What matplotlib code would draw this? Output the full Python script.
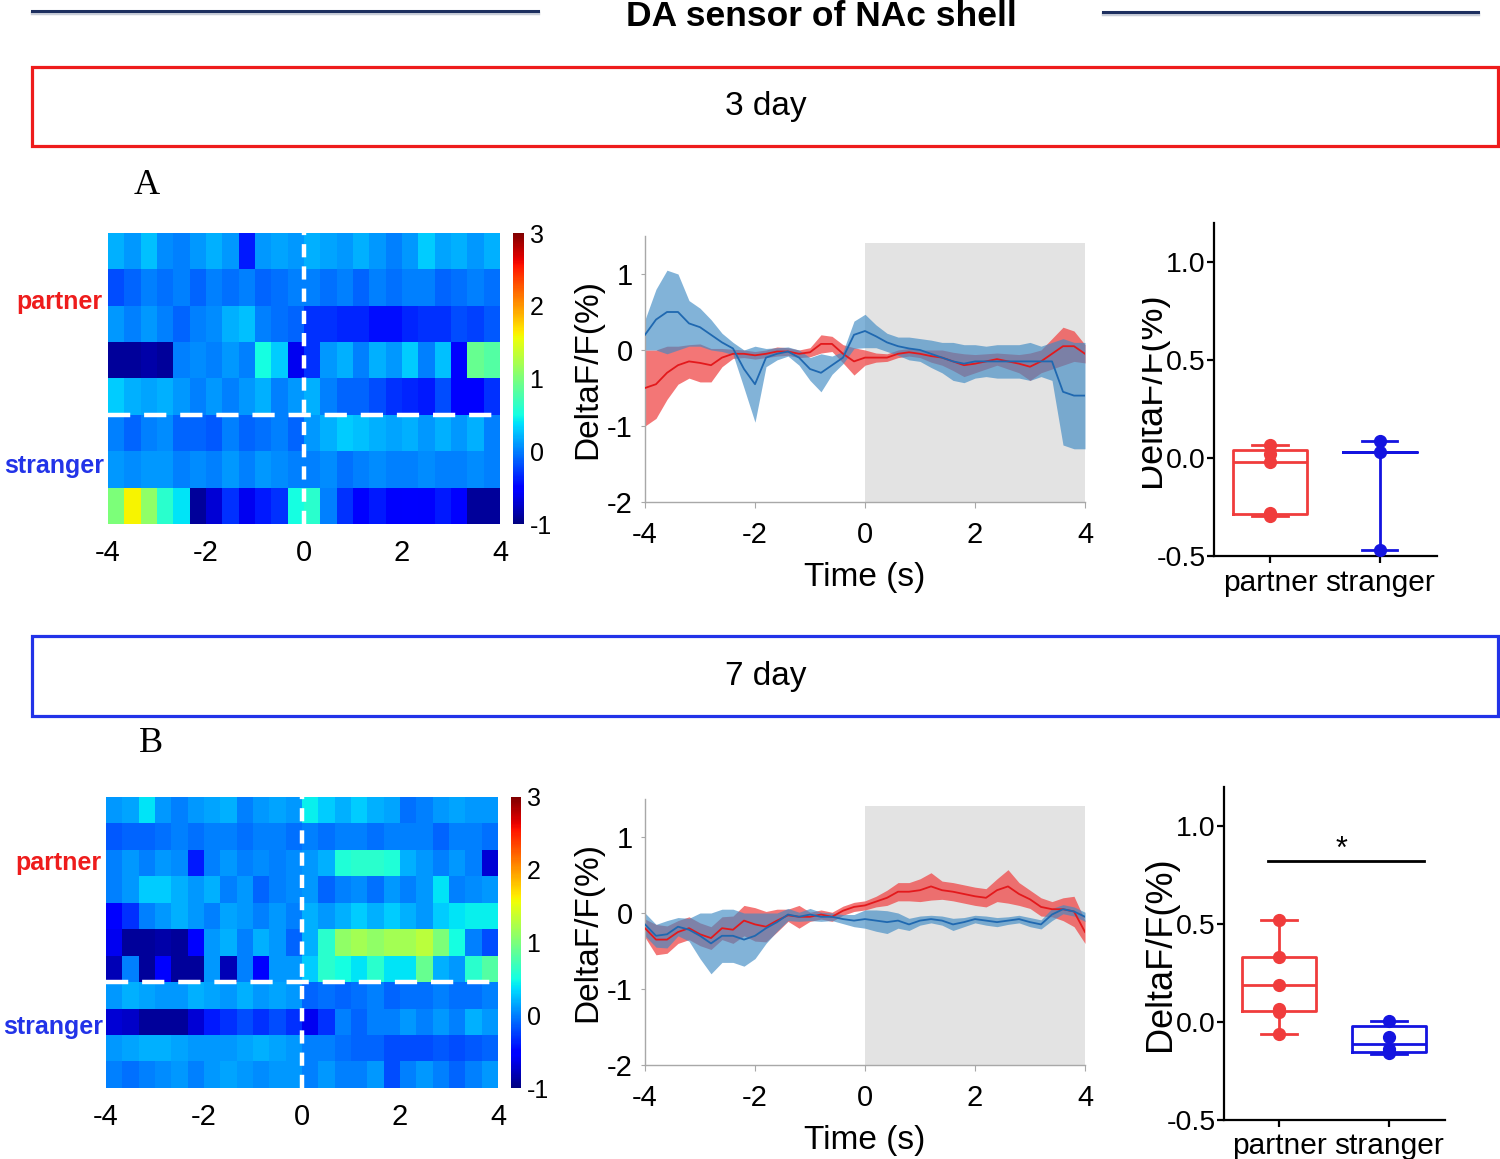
import numpy as np
import matplotlib
matplotlib.use('Agg')
import matplotlib.pyplot as plt
from matplotlib.patches import Rectangle
from matplotlib.lines import Line2D
from matplotlib.ticker import FormatStrFormatter
from matplotlib.transforms import Bbox, TransformedBbox

plt.rcParams['font.family'] = ['Liberation Sans', 'DejaVu Sans']
plt.rcParams['lines.scale_dashes'] = False
plt.rcParams['axes.unicode_minus'] = False

# ---------------- data ----------------
title = "DA sensor of NAc shell"
panel_titles = ["3 day", "7 day"]
groups = ["partner", "stranger"]
heat_xticks = [-4, -2, 0, 2, 4]
cbar_ticks = [-1, 0, 1, 2, 3]
trace_xticks = [-4, -2, 0, 2, 4]
trace_yticks = [-2, -1, 0, 1]
box_yticks = [-0.5, 0.0, 0.5, 1.0]

# heatmap rows (24 bins of 1/3 s from -4 to 4 s)
heat_A = [
    [0.2, 0.1, 0.25, 0.05, 0.0, 0.1, 0.2, 0.1, -0.4, 0.1, 0.15, 0.1, 0.2, 0.15, 0.1, 0.2, 0.1, 0.0, 0.1, 0.3, 0.15, 0.2, 0.1, 0.2],
    [-0.2, -0.1, 0.0, -0.05, 0.0, -0.1, 0.0, -0.05, 0.0, -0.1, -0.05, 0.0, 0.0, -0.05, 0.0, -0.1, 0.0, -0.05, 0.0, 0.0, -0.1, -0.05, 0.0, -0.05],
    [0.1, 0.0, 0.1, 0.0, -0.1, 0.0, 0.05, 0.2, 0.25, 0.0, -0.05, -0.1, -0.3, -0.3, -0.35, -0.35, -0.45, -0.45, -0.35, -0.3, -0.3, -0.2, -0.25, -0.15],
    [-0.9, -0.9, -0.85, -0.9, 0.0, 0.05, 0.0, 0.1, 0.0, 0.5, 0.3, -0.6, -0.3, 0.1, 0.2, 0.0, 0.2, 0.1, 0.3, 0.0, 0.25, -0.5, 0.9, 0.8],
    [0.3, 0.2, 0.15, 0.2, 0.1, 0.0, 0.1, 0.0, 0.1, 0.2, 0.0, 0.1, 0.2, 0.0, -0.1, -0.1, -0.2, -0.3, -0.35, -0.4, -0.2, -0.5, -0.5, -0.3],
    [0.0, -0.1, 0.0, 0.05, -0.1, -0.1, -0.15, 0.0, -0.1, -0.05, 0.0, -0.1, 0.1, 0.2, 0.3, 0.25, 0.2, 0.15, 0.2, 0.1, 0.2, 0.1, 0.2, 0.0],
    [0.1, 0.05, 0.1, 0.1, 0.0, 0.05, 0.0, 0.1, 0.0, 0.1, 0.05, 0.0, 0.0, 0.05, -0.05, 0.0, 0.05, 0.0, 0.0, 0.05, 0.0, 0.0, 0.05, 0.0],
    [1.0, 1.6, 1.1, 0.6, 0.4, -0.9, -0.7, -0.3, -0.6, -0.4, -0.3, 0.5, 0.6, 0.0, -0.3, -0.5, -0.4, -0.55, -0.5, -0.55, -0.4, -0.5, -0.9, -0.9],
]
heat_A_partner_rows = 5

heat_B = [
    [0.1, 0.15, 0.4, 0.1, 0.0, 0.1, 0.15, 0.2, 0.0, 0.1, 0.15, 0.1, 0.45, 0.3, 0.2, 0.3, 0.2, 0.15, -0.05, 0.0, 0.1, 0.15, 0.1, 0.1],
    [-0.15, -0.1, -0.1, -0.05, 0.0, -0.05, 0.0, 0.0, -0.05, 0.0, 0.0, -0.05, 0.0, -0.05, 0.0, 0.0, -0.05, 0.0, 0.0, 0.0, -0.1, 0.0, 0.0, -0.05],
    [0.0, 0.1, 0.0, 0.1, 0.05, -0.4, 0.0, 0.1, 0.0, 0.05, 0.0, 0.05, 0.1, 0.2, 0.55, 0.6, 0.6, 0.55, 0.2, 0.1, 0.0, 0.1, 0.0, -0.7],
    [0.0, 0.1, 0.3, 0.3, 0.2, 0.1, 0.2, 0.0, 0.1, -0.1, 0.0, 0.05, 0.1, -0.1, 0.0, 0.05, -0.05, 0.1, 0.0, 0.1, 0.4, 0.0, 0.05, 0.1],
    [-0.5, -0.3, 0.0, 0.1, 0.2, 0.1, 0.0, 0.15, 0.1, 0.0, 0.1, 0.0, 0.2, 0.1, 0.2, 0.3, 0.2, 0.3, 0.2, 0.1, 0.3, 0.4, 0.45, 0.45],
    [-0.6, -0.9, -0.9, -0.85, -0.9, -0.5, 0.1, 0.2, 0.0, 0.2, 0.1, -0.1, 0.2, 0.6, 1.1, 1.2, 1.1, 1.2, 1.2, 1.3, 1.0, 0.5, 0.0, -0.2],
    [-0.8, 0.0, -0.9, -0.5, -0.9, -0.9, 0.1, -0.8, 0.0, -0.5, 0.1, 0.1, 0.3, 0.6, 0.5, 0.4, 0.6, 0.4, 0.4, 0.9, 0.2, 0.1, 0.6, 0.8],
    [0.1, 0.2, 0.15, 0.1, 0.1, 0.2, 0.15, 0.1, 0.2, 0.1, 0.15, 0.1, -0.1, -0.05, -0.1, -0.05, 0.0, -0.1, -0.05, -0.05, 0.0, -0.05, -0.05, 0.0],
    [-0.7, -0.75, -0.9, -0.9, -0.9, -0.7, -0.4, -0.3, -0.2, -0.3, -0.2, -0.3, -0.6, -0.3, 0.0, -0.1, 0.0, 0.0, 0.1, 0.0, 0.1, 0.0, 0.2, 0.1],
    [0.1, 0.15, 0.2, 0.2, 0.15, 0.1, 0.1, 0.1, 0.15, 0.2, 0.15, 0.1, 0.0, 0.0, -0.05, -0.1, -0.1, -0.2, -0.2, -0.2, -0.15, -0.2, -0.15, -0.1],
    [0.0, -0.05, 0.0, 0.05, 0.1, 0.0, 0.1, 0.15, 0.1, 0.05, 0.1, 0.1, 0.0, 0.1, 0.0, 0.0, 0.1, -0.2, 0.0, 0.1, 0.0, -0.1, 0.0, 0.1],
]
heat_B_partner_rows = 7

# traces, sampled every 0.2 s from -4 to 4 s
time_s = [-4.0, -3.8, -3.6, -3.4, -3.2, -3.0, -2.8, -2.6, -2.4, -2.2, -2.0, -1.8, -1.6, -1.4,
          -1.2, -1.0, -0.8, -0.6, -0.4, -0.2, 0.0, 0.2, 0.4, 0.6, 0.8, 1.0, 1.2, 1.4, 1.6, 1.8,
          2.0, 2.2, 2.4, 2.6, 2.8, 3.0, 3.2, 3.4, 3.6, 3.8, 4.0]

A_partner_mean = [-0.50, -0.45, -0.30, -0.20, -0.15, -0.17, -0.20, -0.10, -0.05, -0.05, -0.07, -0.05, -0.02, -0.02,
                  -0.05, -0.03, 0.08, 0.08, -0.05, -0.15, -0.10, -0.10, -0.10, -0.05, -0.03, -0.05, -0.08, -0.10,
                  -0.15, -0.20, -0.18, -0.15, -0.12, -0.15, -0.18, -0.22, -0.15, -0.05, 0.05, 0.05, -0.05]
A_partner_sem = [0.50, 0.45, 0.35, 0.25, 0.22, 0.25, 0.22, 0.12, 0.06, 0.05, 0.05, 0.05, 0.06, 0.05,
                 0.05, 0.06, 0.12, 0.10, 0.12, 0.18, 0.10, 0.06, 0.05, 0.05, 0.05, 0.05, 0.08, 0.10,
                 0.12, 0.15, 0.12, 0.10, 0.08, 0.10, 0.12, 0.18, 0.15, 0.20, 0.25, 0.20, 0.12]
A_stranger_mean = [0.20, 0.40, 0.50, 0.50, 0.35, 0.30, 0.20, 0.10, 0.02, -0.25, -0.45, -0.10, -0.05, -0.02,
                   -0.10, -0.25, -0.30, -0.20, -0.10, 0.20, 0.25, 0.18, 0.10, 0.05, 0.02, 0.00, -0.05, -0.10,
                   -0.15, -0.18, -0.15, -0.15, -0.15, -0.15, -0.15, -0.15, -0.15, -0.15, -0.55, -0.60, -0.60]
A_stranger_sem = [0.20, 0.40, 0.55, 0.50, 0.30, 0.25, 0.20, 0.12, 0.08, 0.25, 0.50, 0.12, 0.08, 0.06,
                  0.10, 0.15, 0.25, 0.12, 0.08, 0.18, 0.22, 0.15, 0.12, 0.12, 0.15, 0.15, 0.18, 0.20,
                  0.25, 0.25, 0.22, 0.20, 0.22, 0.22, 0.22, 0.25, 0.20, 0.25, 0.70, 0.70, 0.70]

B_partner_mean = [-0.20, -0.35, -0.35, -0.25, -0.20, -0.28, -0.33, -0.20, -0.22, -0.10, -0.15, -0.18, -0.10, -0.03,
                  -0.05, -0.05, -0.02, -0.05, 0.03, 0.08, 0.10, 0.15, 0.20, 0.28, 0.28, 0.30, 0.35, 0.30,
                  0.28, 0.25, 0.22, 0.20, 0.30, 0.35, 0.25, 0.18, 0.08, 0.05, 0.05, 0.02, -0.25]
B_partner_sem = [0.12, 0.20, 0.18, 0.15, 0.15, 0.15, 0.15, 0.15, 0.18, 0.20, 0.22, 0.20, 0.15, 0.08,
                 0.15, 0.06, 0.06, 0.06, 0.06, 0.06, 0.06, 0.07, 0.10, 0.12, 0.12, 0.15, 0.18, 0.12,
                 0.12, 0.12, 0.12, 0.12, 0.15, 0.22, 0.15, 0.12, 0.12, 0.10, 0.15, 0.20, 0.15]
B_stranger_mean = [-0.15, -0.30, -0.28, -0.18, -0.22, -0.30, -0.40, -0.30, -0.30, -0.35, -0.30, -0.20, -0.12, -0.02,
                   -0.05, -0.02, -0.05, -0.05, -0.08, -0.10, -0.08, -0.10, -0.12, -0.10, -0.15, -0.10, -0.08, -0.10,
                   -0.15, -0.12, -0.08, -0.10, -0.12, -0.10, -0.08, -0.12, -0.15, -0.02, 0.05, 0.02, -0.05]
B_stranger_sem = [0.15, 0.15, 0.18, 0.12, 0.15, 0.30, 0.40, 0.35, 0.35, 0.35, 0.30, 0.20, 0.12, 0.08,
                  0.06, 0.08, 0.06, 0.05, 0.06, 0.08, 0.12, 0.14, 0.15, 0.10, 0.08, 0.06, 0.05, 0.06,
                  0.08, 0.06, 0.05, 0.06, 0.06, 0.05, 0.05, 0.06, 0.06, 0.08, 0.06, 0.06, 0.06]

# box plots: individual points and box statistics
A_partner_pts = [0.065, 0.02, -0.02, -0.28, -0.295]
A_stranger_pts = [0.088, 0.032, -0.47]
A_partner_stats = dict(whislo=-0.295, q1=-0.285, med=-0.02, q3=0.04, whishi=0.065)
A_stranger_stats = dict(whislo=-0.47, q1=0.032, med=0.032, q3=0.032, whishi=0.088)

B_partner_pts = [0.52, 0.33, 0.19, 0.065, 0.05, -0.06]
B_stranger_pts = [0.005, -0.075, -0.135, -0.16]
B_partner_stats = dict(whislo=-0.06, q1=0.055, med=0.19, q3=0.33, whishi=0.52)
B_stranger_stats = dict(whislo=-0.165, q1=-0.155, med=-0.11, q3=-0.02, whishi=0.005)
B_sig_y = 0.82
B_sig_x = [-0.1, 1.32]

# ---------------- figure ----------------
W, H = 1500, 1159
fig = plt.figure(figsize=(15, 11.59), dpi=100)


def rect(x0, y0, x1, y1):
    return [x0 / W, 1 - y1 / H, (x1 - x0) / W, (y1 - y0) / H]


def fx(x):
    return x / W


def fy(y):
    return 1 - y / H


RED = '#ee1c1c'
BLUE = '#2233e8'
NAVY = '#1d2f5f'

# header
fig.text(fx(821), fy(16.5), title, ha='center', va='center', fontsize=25.5, fontweight='bold')
for (x0, x1, yy) in [(32, 538, 11), (1103, 1478, 12)]:
    fig.add_artist(Line2D([fx(x0), fx(x1)], [fy(yy + 2), fy(yy + 2)], color='#c8cdd8', lw=2.5))
    fig.add_artist(Line2D([fx(x0), fx(x1)], [fy(yy), fy(yy)], color=NAVY, lw=2.2))

# section boxes
for (y0, y1, col, txt) in [(67, 146, RED, panel_titles[0]), (636, 716, BLUE, panel_titles[1])]:
    fig.add_artist(Rectangle((fx(32), fy(y1)), fx(1498) - fx(32), fy(y0) - fy(y1),
                             transform=fig.transFigure, fill=False, edgecolor=col, lw=2.3))
    fig.text(fx(766), fy((y0 + y1) / 2), txt, ha='center', va='center', fontsize=24)

fig.text(fx(147), fy(185), 'A', ha='center', va='center', fontsize=26, family='Liberation Serif')
fig.text(fx(151), fy(743), 'B', ha='center', va='center', fontsize=26, family='Liberation Serif')


def heat(rows, n_partner, r_hm, r_cb, y_partner, y_stranger, x_lab):
    ax = fig.add_axes(rect(*r_hm))
    data = np.array(rows)
    n = data.shape[0]
    im = ax.imshow(data, cmap='jet', vmin=-1, vmax=3, aspect='auto',
                   extent=[-4, 4, n, 0], interpolation='nearest')
    ax.axvline(0, color='white', lw=3.2, dashes=(9.5, 6.5))
    ax.axhline(n_partner, color='white', lw=3.2, dashes=(16, 10))
    ax.set_xlim(-4, 4)
    ax.set_ylim(n, 0)
    ax.set_xticks(heat_xticks)
    ax.set_yticks([])
    ax.tick_params(axis='x', length=0, pad=11, labelsize=21)
    for s in ax.spines.values():
        s.set_visible(False)
    cax = fig.add_axes(rect(*r_cb))
    cb = fig.colorbar(im, cax=cax, ticks=cbar_ticks)
    cb.outline.set_visible(False)
    cax.tick_params(length=0, pad=4, labelsize=18)
    fig.text(fx(x_lab), fy(y_partner), groups[0], color=RED, fontsize=18, fontweight='bold',
             ha='right', va='center')
    fig.text(fx(x_lab + 2), fy(y_stranger), groups[1], color=BLUE, fontsize=18, fontweight='bold',
             ha='right', va='center')


heat(heat_A, heat_A_partner_rows, (108, 233, 500, 524), (513, 233, 524, 524), 302, 466, 102)
heat(heat_B, heat_B_partner_rows, (106, 797, 498, 1088), (511, 797, 521, 1088), 863, 1027, 101)

t = np.array(time_s)


def trace(r, mp, sp, ms, ss):
    ax = fig.add_axes(rect(*r))
    mp, sp, ms, ss = map(np.array, (mp, sp, ms, ss))
    ax.fill_between([0, 4], -2, 1.41, color='#e3e3e3', lw=0, zorder=0)
    ax.fill_between(t, mp - sp, mp + sp, color='#f04848', alpha=0.75, lw=0, zorder=1)
    ax.fill_between(t, ms - ss, ms + ss, color='#3f8ac4', alpha=0.65, lw=0, zorder=2)
    ax.plot(t, mp, color='#e3191c', lw=1.3, zorder=3)
    ax.plot(t, ms, color='#1f68b0', lw=1.3, zorder=4)
    ax.set_xlim(-4, 4)
    ax.set_ylim(-2, 1.5)
    ax.set_xticks(trace_xticks)
    ax.set_yticks(trace_yticks)
    for s in ['top', 'right']:
        ax.spines[s].set_visible(False)
    for s in ['left', 'bottom']:
        ax.spines[s].set_color('#a8a8a8')
        ax.spines[s].set_linewidth(1.0)
    ax.tick_params(axis='x', length=4, color='#a8a8a8', pad=10, labelsize=21)
    ax.tick_params(axis='y', length=3, color='#a8a8a8', pad=6, labelsize=21)
    ax.set_xlabel('Time (s)', fontsize=24)
    ax.set_ylabel('DeltaF/F(%)', fontsize=24)
    ax.yaxis.set_label_coords(-0.096, 0.5)
    ax.xaxis.set_label_coords(0.5, -0.226)
    ax.patch.set_alpha(0)


trace((645, 236, 1085, 502), A_partner_mean, A_partner_sem, A_stranger_mean, A_stranger_sem)
trace((645, 799, 1085, 1065), B_partner_mean, B_partner_sem, B_stranger_mean, B_stranger_sem)

BOX_RED = '#f03c3c'
BOX_BLUE = '#1414e0'


def boxes(r, pstats, sstats, ppts, spts, xlim, label_x, clip_x=None):
    ax = fig.add_axes(rect(*r))
    for i, (st, pts, col) in enumerate([(pstats, ppts, BOX_RED), (sstats, spts, BOX_BLUE)]):
        ax.bxp([dict(st)], positions=[i], widths=0.68, capwidths=0.32, showfliers=False,
               boxprops=dict(color=col, lw=2.0), whiskerprops=dict(color=col, lw=2.0),
               capprops=dict(color=col, lw=2.0), medianprops=dict(color=col, lw=2.0),
               manage_ticks=False)
        ax.plot([i] * len(pts), pts, 'o', color=col, ms=8.5, zorder=5, clip_on=False)
    ax.set_xlim(*xlim)
    ax.set_ylim(-0.5, 1.2)
    ax.set_xticks([0, 1])
    ax.set_xticklabels(groups)
    ax.set_yticks(box_yticks)
    ax.yaxis.set_major_formatter(FormatStrFormatter('%.1f'))
    for s in ['top', 'right']:
        ax.spines[s].set_visible(False)
    for s in ['left', 'bottom']:
        ax.spines[s].set_linewidth(1.6)
    ax.tick_params(axis='y', length=5, width=1.6, pad=1, labelsize=20.5)
    ax.tick_params(axis='x', length=5, width=1.6, pad=4, labelsize=21.5)
    lab = ax.set_ylabel('DeltaF/F(%)', fontsize=26)
    ax.yaxis.set_label_coords(label_x, 0.5)
    if clip_x is not None:
        cb = TransformedBbox(Bbox([[clip_x / W, 0], [1, 1]]), fig.transFigure)
        lab.set_clip_box(cb)
        lab.set_clip_on(True)
    ax.patch.set_alpha(0)
    return ax


boxes((1214, 223, 1437, 556), A_partner_stats, A_stranger_stats, A_partner_pts, A_stranger_pts,
      (-0.51, 1.52), -0.205, clip_x=1142)
axB = boxes((1224, 787, 1445, 1120), B_partner_stats, B_stranger_stats, B_partner_pts, B_stranger_pts,
            (-0.5, 1.51), -0.21)
axB.plot(B_sig_x, [B_sig_y, B_sig_y], color='black', lw=2.0)
axB.text(np.mean(B_sig_x) - 0.04, B_sig_y - 0.02, '*', ha='center', va='bottom', fontsize=22)

fig.savefig('out.png', dpi=100)
